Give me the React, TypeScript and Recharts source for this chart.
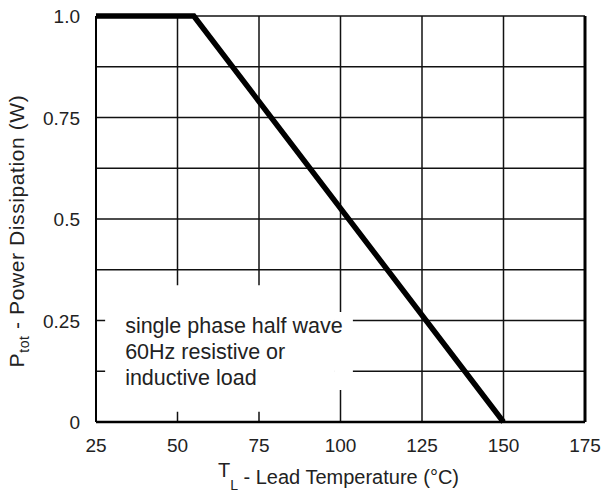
import { LineChart, Line, XAxis, YAxis, CartesianGrid, ReferenceArea, ReferenceLine } from "recharts";

// derating curve: flat to the knee, then linear down to zero
const leadTemps = [25, 55, 150];
const powerWatts = [1.0, 1.0, 0];

const xTicks = [25, 50, 75, 100, 125, 150, 175];
const yTicks = [0, 0.125, 0.25, 0.375, 0.5, 0.625, 0.75, 0.875, 1.0];
const yLabelValues = [0, 0.25, 0.5, 0.75, 1.0];
const yLabelText = ["0", "0.25", "0.5", "0.75", "1.0"];

const noteLines = ["single phase half wave", "60Hz resistive or", "inductive load"];

const data = leadTemps.map((t, i) => ({ t, p: powerWatts[i] }));

const FONT = "'Liberation Sans', Arial, sans-serif";
const TEXT = "#222";

function XTick({ x, y, payload }: any) {
  return (
    <text x={x} y={y} dy={22} textAnchor="middle" fontFamily={FONT} fontSize={19} fill={TEXT}>
      {payload.value}
    </text>
  );
}

function YTick({ x, y, payload }: any) {
  const idx = yLabelValues.indexOf(payload.value);
  if (idx < 0) return null;
  return (
    <text x={x} y={y} dy={7} textAnchor="end" fontFamily={FONT} fontSize={19} fill={TEXT}>
      {yLabelText[idx]}
    </text>
  );
}

function XTitle({ viewBox }: any) {
  const cx = viewBox.x + viewBox.width / 2 - 2;
  const by = viewBox.y + 62;
  return (
    <text x={cx} y={by} textAnchor="middle" fontFamily={FONT} fontSize={20} fill={TEXT}>
      <tspan dy={-7}>T</tspan>
      <tspan dy={13} fontSize={14}>L</tspan>
      <tspan dy={-6}> - Lead Temperature (°C)</tspan>
    </text>
  );
}

function YTitle({ viewBox }: any) {
  const x = 24;
  const cy = viewBox.y + viewBox.height / 2 + 12;
  return (
    <text
      x={x}
      y={cy}
      transform={`rotate(-90, ${x}, ${cy})`}
      textAnchor="middle"
      fontFamily={FONT}
      fontSize={21}
      letterSpacing={0.6}
      fill={TEXT}
    >
      <tspan>P</tspan>
      <tspan dy={5} fontSize={14}>tot</tspan>
      <tspan dy={-5}> - Power Dissipation (W)</tspan>
    </text>
  );
}

function Note({ viewBox }: any) {
  return (
    <g>
      {noteLines.map((s, i) => (
        <text
          key={s}
          x={viewBox.x + 20}
          y={viewBox.y + 48 + i * 26}
          fontFamily={FONT}
          fontSize={21.5}
          fill={TEXT}
        >
          {s}
        </text>
      ))}
    </g>
  );
}

export default function App() {
  return (
    <div style={{ position: "absolute", left: 0, top: 0, background: "#fff" }}>
      <LineChart width={604} height={497} data={data} margin={{ top: 16, right: 19, left: 0, bottom: 0 }}>
        <CartesianGrid stroke="#111" strokeWidth={1.5} />
        <XAxis
          dataKey="t"
          type="number"
          domain={[25, 175]}
          ticks={xTicks}
          height={75}
          tickSize={0}
          tickMargin={8}
          tick={<XTick />}
          axisLine={{ stroke: "#000", strokeWidth: 2.5 }}
          label={{ content: (p: any) => <XTitle viewBox={p.viewBox} /> }}
        />
        <YAxis
          type="number"
          domain={[0, 1]}
          ticks={yTicks}
          width={96}
          tickSize={0}
          tickMargin={16}
          tick={<YTick />}
          axisLine={{ stroke: "#000", strokeWidth: 2 }}
          label={{ content: (p: any) => <YTitle viewBox={p.viewBox} /> }}
        />
        <ReferenceLine x={175} stroke="#000" strokeWidth={3} />
        <ReferenceArea x1={98.3} x2={103.8} y1={0.079} y2={0.271} fill="#fff" fillOpacity={1} stroke="none" />
        <ReferenceArea
          x1={27.8}
          x2={98.3}
          y1={0.025}
          y2={0.337}
          fill="#fff"
          fillOpacity={1}
          stroke="none"
          label={{ content: (p: any) => <Note viewBox={p.viewBox} /> }}
        />
        <Line
          dataKey="p"
          type="linear"
          stroke="#000"
          strokeWidth={5.5}
          dot={false}
          activeDot={false}
          isAnimationActive={false}
        />
      </LineChart>
    </div>
  );
}
